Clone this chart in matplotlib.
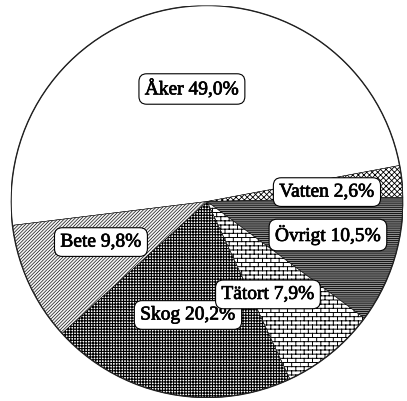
import numpy as np
import matplotlib
matplotlib.use("Agg")
import matplotlib.pyplot as plt
import matplotlib.patheffects as pe
from matplotlib import hatch as mhatch
from matplotlib.path import Path

# ---- data ----
categories = ["Åker", "Vatten", "Övrigt", "Tätort", "Skog", "Bete"]
shares = [49.0, 2.6, 10.5, 7.9, 20.2, 9.8]

# ---- custom brick hatch ('b') ----
class BrickHatch(mhatch.HatchPatternBase):
    def __init__(self, hatch, density):
        self.num_rows = int(hatch.count('b') * density)
        if self.num_rows % 2:
            self.num_rows += 1
        self.num_cols = max(self.num_rows // 2, 1)
        if self.num_rows:
            self.num_vertices = (self.num_rows + 1) * 2 + self.num_rows * self.num_cols * 2
        else:
            self.num_vertices = 0

    def set_vertices_and_codes(self, vertices, codes):
        R, C = self.num_rows, self.num_cols
        k = 0
        for i in range(R + 1):
            y = i / R
            vertices[k] = (0.0, y); codes[k] = Path.MOVETO; k += 1
            vertices[k] = (1.0, y); codes[k] = Path.LINETO; k += 1
        for i in range(R):
            y0, y1 = i / R, (i + 1) / R
            off = 0.5 * (i % 2)
            for j in range(C):
                x = ((j + off) / C) % 1.0
                vertices[k] = (x, y0); codes[k] = Path.MOVETO; k += 1
                vertices[k] = (x, y1); codes[k] = Path.LINETO; k += 1

if BrickHatch not in mhatch._hatch_types:
    mhatch._hatch_types.append(BrickHatch)

# ---- styles ----
faces = ["white", "white", "#8f8f8f", "white", "white", "#f2f2f2"]
hatches = [None, "xxxxxx", "--------", "bbbb", "++++++", "//////////"]
hatch_lws = [0.6, 0.6, 0.6, 0.7, 0.8, 0.45]
label_xy = [(-0.077, 0.574), (0.612, 0.048), (0.617, -0.171),
            (0.311, -0.474), (-0.097, -0.579), (-0.541, -0.207)]
label_z = [5, 5, 5, 7, 6, 5]

fig = plt.figure(figsize=(4.07, 4.01), dpi=100)
ax = fig.add_axes([11 / 407, 3.5 / 401, 392 / 407, 392 / 401])

wedges, _ = ax.pie(shares, startangle=187, counterclock=False, radius=1.0,
                   center=(0, 0), frame=True,
                   wedgeprops=dict(edgecolor="black", linewidth=0.4))
ax.set_xlim(-1.0, 1.0)
ax.set_ylim(-1.0, 1.0)
ax.set_aspect("auto")
ax.axis("off")

for w, fc, h, hl in zip(wedges, faces, hatches, hatch_lws):
    w.set_facecolor(fc)
    if h:
        w.set_hatch(h)
        try:
            w.set_hatch_linewidth(hl)
        except Exception:
            plt.rcParams["hatch.linewidth"] = hl

circle = plt.Circle((0, 0), 1.0, fill=False, edgecolor="#222222", linewidth=1.0)
ax.add_patch(circle)

for name, val, (x, y), z in zip(categories, shares, label_xy, label_z):
    txt = f"{name} {val:.1f}%".replace(".", ",")
    ax.text(x, y, txt, ha="center", va="center", fontsize=14,
            family="Liberation Serif", zorder=z,
            path_effects=[pe.withStroke(linewidth=0.5, foreground="black")],
            bbox=dict(boxstyle="round,pad=0.3,rounding_size=0.4",
                      facecolor="white", edgecolor="black", linewidth=0.8))

fig.savefig("out.png", dpi=100)
